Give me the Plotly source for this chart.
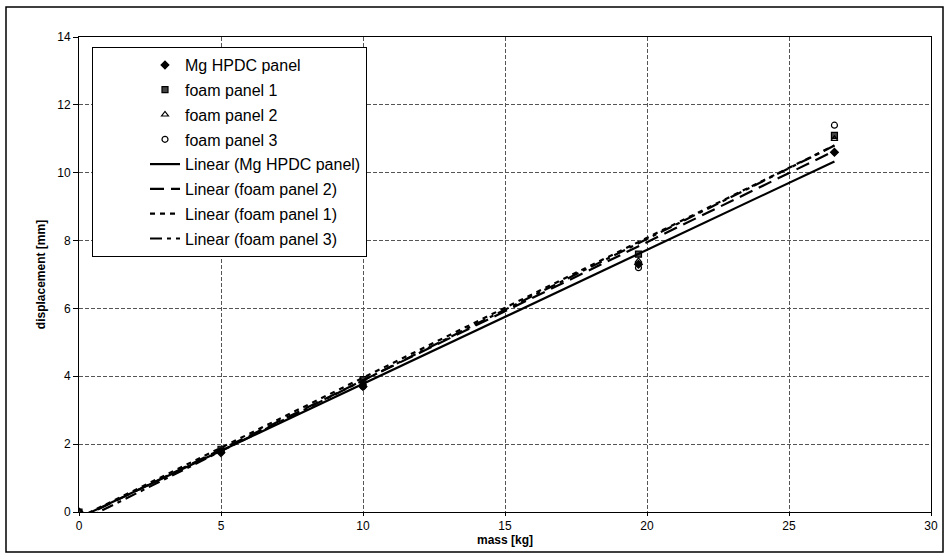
import numpy as np
import plotly.graph_objects as go

# ---- data ----
mass_kg = [0, 5, 10, 19.7, 26.6]
mg_hpdc = [0, 1.75, 3.7, 7.3, 10.6]
foam_1 = [0, 1.85, 3.9, 7.6, 11.1]
foam_2 = [0, 1.8, 3.8, 7.4, 11.0]
foam_3 = [0, 1.8, 3.7, 7.2, 11.4]

series_names = ["Mg HPDC panel", "foam panel 1", "foam panel 2", "foam panel 3"]
series_values = [mg_hpdc, foam_1, foam_2, foam_3]
marker_symbols = ["diamond", "square", "triangle-up-open", "circle-open"]
marker_colors = ["#000000", "#444444", "#000000", "#000000"]

# trendline order in legend and dash styles
trend_order = ["Mg HPDC panel", "foam panel 2", "foam panel 1", "foam panel 3"]
trend_dash = ["solid", "14px,7px", "5px,5px", "12px,5px,4px,5px"]

x_ticks = [0, 5, 10, 15, 20, 25, 30]
y_ticks = [0, 2, 4, 6, 8, 10, 12, 14]

FONT = "Liberation Sans, Arial, sans-serif"

fig = go.Figure()

for i, (name, vals) in enumerate(zip(series_names, series_values)):
    fig.add_trace(go.Scatter(
        x=mass_kg, y=vals, mode="markers", name=name,
        legendgroup="g%d" % i,
        marker=dict(symbol=marker_symbols[i], size=6, color=marker_colors[i],
                    line=dict(color="#000000", width=1.2)),
    ))

lookup = dict(zip(series_names, series_values))
xs = np.array(mass_kg, dtype=float)
for j, name in enumerate(trend_order):
    slope, intercept = np.polyfit(xs, np.array(lookup[name], dtype=float), 1)
    xl = [xs.min(), xs.max()]
    yl = [slope * xs.min() + intercept, slope * xs.max() + intercept]
    fig.add_trace(go.Scatter(
        x=xl, y=yl, mode="lines", name="Linear (%s)" % name,
        legendgroup="t%d" % j,
        line=dict(color="#000000", width=2.2, dash=trend_dash[j]),
    ))

axis_common = dict(
    showline=True, linecolor="#000000", linewidth=1, mirror=True,
    showgrid=True, gridcolor="#555555", gridwidth=1, griddash="4px,2px",
    zeroline=False, ticks="outside", tickcolor="#000000",
    tickfont=dict(family=FONT, size=12, color="#000000"),
)

fig.update_xaxes(range=[0, 30], tickvals=x_ticks, ticklen=3,
                 title=dict(text="<b>mass [kg]</b>", font=dict(family=FONT, size=12, color="#000"), standoff=0),
                 **axis_common)
fig.update_yaxes(range=[0, 14], tickvals=y_ticks, ticklen=5,
                 title=dict(text="<b>displacement [mm]</b>", font=dict(family=FONT, size=12, color="#000"), standoff=9),
                 **axis_common)

L, R, T, B = 79, 18, 37, 46
PW = 949 - L - R
PH = 558 - T - B

fig.update_layout(
    width=949, height=558, autosize=False,
    margin=dict(l=L, r=R, t=T, b=B, autoexpand=False),
    paper_bgcolor="#ffffff", plot_bgcolor="#ffffff",
    font=dict(family=FONT, size=13, color="#000000"),
    legend=dict(
        x=(92 - L) / PW, y=1 - (47 - T) / PH, xanchor="left", yanchor="top",
        bgcolor="#ffffff", bordercolor="#000000", borderwidth=1,
        font=dict(family=FONT, size=16, color="#000000"),
        tracegroupgap=1, indentation=52,
    ),
    shapes=[dict(type="rect", xref="paper", yref="paper",
                 x0=(6 - L) / PW, x1=(943 - L) / PW,
                 y0=-(552 - (558 - B)) / PH, y1=1 + (T - 7) / PH,
                 line=dict(color="#000000", width=1.5), layer="below")],
)

fig.write_html("out.html",
               config={"responsive": False, "displayModeBar": False},
               post_script="document.body.style.margin='0';document.body.style.overflow='hidden';")
